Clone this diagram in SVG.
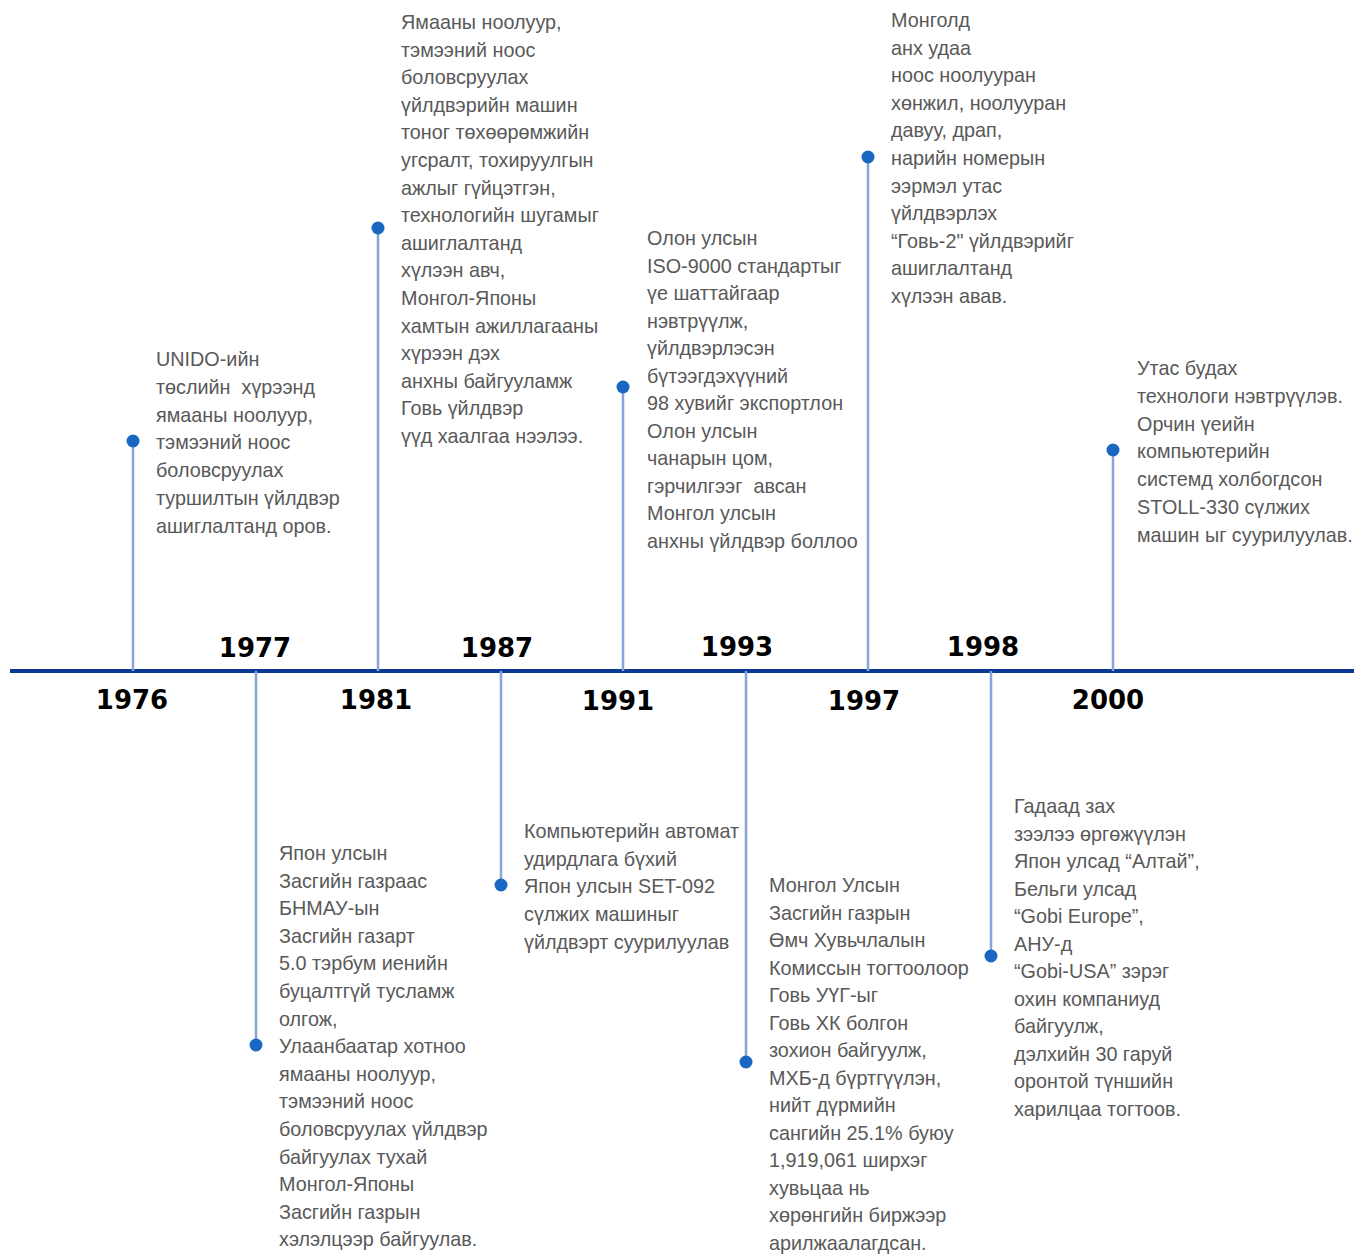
<svg xmlns="http://www.w3.org/2000/svg" width="1354" height="1254" viewBox="0 0 1354 1254">
<style>
.axis{stroke:#0B3A96;stroke-width:4;fill:none}
.stem{stroke:#88A4D8;stroke-width:2.5;fill:none}
.dot{fill:#1A67C1}
.yr{font-family:"DejaVu Sans",Verdana,sans-serif;font-weight:bold;font-size:26px;fill:#000;text-anchor:middle}
.tx{font-family:"Liberation Sans",Arial,sans-serif;font-size:19.8px;fill:#595959;white-space:pre}
</style>
<rect width="1354" height="1254" fill="#fff"/>
<g id="connectors">
<line class="axis" x1="10" y1="671" x2="1354" y2="671"/>
<line class="stem" x1="133" y1="441" x2="133" y2="671"/>
<line class="stem" x1="256" y1="671" x2="256" y2="1045"/>
<line class="stem" x1="378" y1="228" x2="378" y2="671"/>
<line class="stem" x1="501" y1="671" x2="501" y2="885"/>
<line class="stem" x1="623" y1="387" x2="623" y2="671"/>
<line class="stem" x1="746" y1="671" x2="746" y2="1062"/>
<line class="stem" x1="868" y1="157" x2="868" y2="671"/>
<line class="stem" x1="991" y1="671" x2="991" y2="956"/>
<line class="stem" x1="1113" y1="450" x2="1113" y2="671"/>
</g>
<g id="n1976">
<circle class="dot" cx="133" cy="441" r="6.5"/>
<text class="yr" x="132" y="709">1976</text>
<text class="tx" x="156" y="366"><tspan x="156">UNIDO-ийн</tspan><tspan x="156" dy="27.8">төслийн  хүрээнд</tspan><tspan x="156" dy="27.8">ямааны ноолуур,</tspan><tspan x="156" dy="27.8">тэмээний ноос</tspan><tspan x="156" dy="27.8">боловсруулах</tspan><tspan x="156" dy="27.8">туршилтын үйлдвэр</tspan><tspan x="156" dy="27.8">ашиглалтанд оров.</tspan></text>
</g>
<g id="n1977">
<circle class="dot" cx="256" cy="1045" r="6.5"/>
<text class="yr" x="255" y="657">1977</text>
<text class="tx" x="279" y="860"><tspan x="279">Япон улсын</tspan><tspan x="279" dy="27.6">Засгийн газраас</tspan><tspan x="279" dy="27.6">БНМАУ-ын</tspan><tspan x="279" dy="27.6">Засгийн газарт</tspan><tspan x="279" dy="27.6">5.0 тэрбум иенийн</tspan><tspan x="279" dy="27.6">буцалтгүй тусламж</tspan><tspan x="279" dy="27.6">олгож,</tspan><tspan x="279" dy="27.6">Улаанбаатар хотноо</tspan><tspan x="279" dy="27.6">ямааны ноолуур,</tspan><tspan x="279" dy="27.6">тэмээний ноос</tspan><tspan x="279" dy="27.6">боловсруулах үйлдвэр</tspan><tspan x="279" dy="27.6">байгуулах тухай</tspan><tspan x="279" dy="27.6">Монгол-Японы</tspan><tspan x="279" dy="27.6">Засгийн газрын</tspan><tspan x="279" dy="27.6">хэлэлцээр байгуулав.</tspan></text>
</g>
<g id="n1981">
<circle class="dot" cx="378" cy="228" r="6.5"/>
<text class="yr" x="376" y="709">1981</text>
<text class="tx" x="401" y="29"><tspan x="401">Ямааны ноолуур,</tspan><tspan x="401" dy="27.6">тэмээний ноос</tspan><tspan x="401" dy="27.6">боловсруулах</tspan><tspan x="401" dy="27.6">үйлдвэрийн машин</tspan><tspan x="401" dy="27.6">тоног төхөөрөмжийн</tspan><tspan x="401" dy="27.6">угсралт, тохируулгын</tspan><tspan x="401" dy="27.6">ажлыг гүйцэтгэн,</tspan><tspan x="401" dy="27.6">технологийн шугамыг</tspan><tspan x="401" dy="27.6">ашиглалтанд</tspan><tspan x="401" dy="27.6">хүлээн авч,</tspan><tspan x="401" dy="27.6">Монгол-Японы</tspan><tspan x="401" dy="27.6">хамтын ажиллагааны</tspan><tspan x="401" dy="27.6">хүрээн дэх</tspan><tspan x="401" dy="27.6">анхны байгууламж</tspan><tspan x="401" dy="27.6">Говь үйлдвэр</tspan><tspan x="401" dy="27.6">үүд хаалгаа нээлээ.</tspan></text>
</g>
<g id="n1987">
<circle class="dot" cx="501" cy="885" r="6.5"/>
<text class="yr" x="497" y="657">1987</text>
<text class="tx" x="524" y="838"><tspan x="524">Компьютерийн автомат</tspan><tspan x="524" dy="27.7">удирдлага бүхий</tspan><tspan x="524" dy="27.7">Япон улсын SET-092</tspan><tspan x="524" dy="27.7">сүлжих машиныг</tspan><tspan x="524" dy="27.7">үйлдвэрт суурилуулав</tspan></text>
</g>
<g id="n1991">
<circle class="dot" cx="623" cy="387" r="6.5"/>
<text class="yr" x="618" y="710">1991</text>
<text class="tx" x="647" y="245"><tspan x="647">Олон улсын</tspan><tspan x="647" dy="27.5">ISO-9000 стандартыг</tspan><tspan x="647" dy="27.5">үе шаттайгаар</tspan><tspan x="647" dy="27.5">нэвтрүүлж,</tspan><tspan x="647" dy="27.5">үйлдвэрлэсэн</tspan><tspan x="647" dy="27.5">бүтээгдэхүүний</tspan><tspan x="647" dy="27.5">98 хувийг экспортлон</tspan><tspan x="647" dy="27.5">Олон улсын</tspan><tspan x="647" dy="27.5">чанарын цом,</tspan><tspan x="647" dy="27.5">гэрчилгээг  авсан</tspan><tspan x="647" dy="27.5">Монгол улсын</tspan><tspan x="647" dy="27.5">анхны үйлдвэр боллоо</tspan></text>
</g>
<g id="n1993">
<circle class="dot" cx="746" cy="1062" r="6.5"/>
<text class="yr" x="737" y="656">1993</text>
<text class="tx" x="769" y="892"><tspan x="769">Монгол Улсын</tspan><tspan x="769" dy="27.5">Засгийн газрын</tspan><tspan x="769" dy="27.5">Өмч Хувьчлалын</tspan><tspan x="769" dy="27.5">Комиссын тогтоолоор</tspan><tspan x="769" dy="27.5">Говь УҮГ-ыг</tspan><tspan x="769" dy="27.5">Говь ХК болгон</tspan><tspan x="769" dy="27.5">зохион байгуулж,</tspan><tspan x="769" dy="27.5">МХБ-д бүртгүүлэн,</tspan><tspan x="769" dy="27.5">нийт дүрмийн</tspan><tspan x="769" dy="27.5">сангийн 25.1% буюу</tspan><tspan x="769" dy="27.5">1,919,061 ширхэг</tspan><tspan x="769" dy="27.5">хувьцаа нь</tspan><tspan x="769" dy="27.5">хөрөнгийн биржээр</tspan><tspan x="769" dy="27.5">арилжаалагдсан.</tspan></text>
</g>
<g id="n1997">
<circle class="dot" cx="868" cy="157" r="6.5"/>
<text class="yr" x="864" y="710">1997</text>
<text class="tx" x="891" y="27"><tspan x="891">Монголд</tspan><tspan x="891" dy="27.6">анх удаа</tspan><tspan x="891" dy="27.6">ноос ноолууран</tspan><tspan x="891" dy="27.6">хөнжил, ноолууран</tspan><tspan x="891" dy="27.6">давуу, драп,</tspan><tspan x="891" dy="27.6">нарийн номерын</tspan><tspan x="891" dy="27.6">ээрмэл утас</tspan><tspan x="891" dy="27.6">үйлдвэрлэх</tspan><tspan x="891" dy="27.6">“Говь-2" үйлдвэрийг</tspan><tspan x="891" dy="27.6">ашиглалтанд</tspan><tspan x="891" dy="27.6">хүлээн авав.</tspan></text>
</g>
<g id="n1998">
<circle class="dot" cx="991" cy="956" r="6.5"/>
<text class="yr" x="983" y="656">1998</text>
<text class="tx" x="1014" y="813"><tspan x="1014">Гадаад зах</tspan><tspan x="1014" dy="27.5">зээлээ өргөжүүлэн</tspan><tspan x="1014" dy="27.5">Япон улсад “Алтай”,</tspan><tspan x="1014" dy="27.5">Бельги улсад</tspan><tspan x="1014" dy="27.5">“Gobi Europe”,</tspan><tspan x="1014" dy="27.5">АНУ-д</tspan><tspan x="1014" dy="27.5">“Gobi-USA” зэрэг</tspan><tspan x="1014" dy="27.5">охин компаниуд</tspan><tspan x="1014" dy="27.5">байгуулж,</tspan><tspan x="1014" dy="27.5">дэлхийн 30 гаруй</tspan><tspan x="1014" dy="27.5">оронтой түншийн</tspan><tspan x="1014" dy="27.5">харилцаа тогтоов.</tspan></text>
</g>
<g id="n2000">
<circle class="dot" cx="1113" cy="450" r="6.5"/>
<text class="yr" x="1108" y="709">2000</text>
<text class="tx" x="1137" y="375"><tspan x="1137">Утас будах</tspan><tspan x="1137" dy="27.8">технологи нэвтрүүлэв.</tspan><tspan x="1137" dy="27.8">Орчин үеийн</tspan><tspan x="1137" dy="27.8">компьютерийн</tspan><tspan x="1137" dy="27.8">системд холбогдсон</tspan><tspan x="1137" dy="27.8">STOLL-330 сүлжих</tspan><tspan x="1137" dy="27.8">машин ыг суурилуулав.</tspan></text>
</g>
</svg>
